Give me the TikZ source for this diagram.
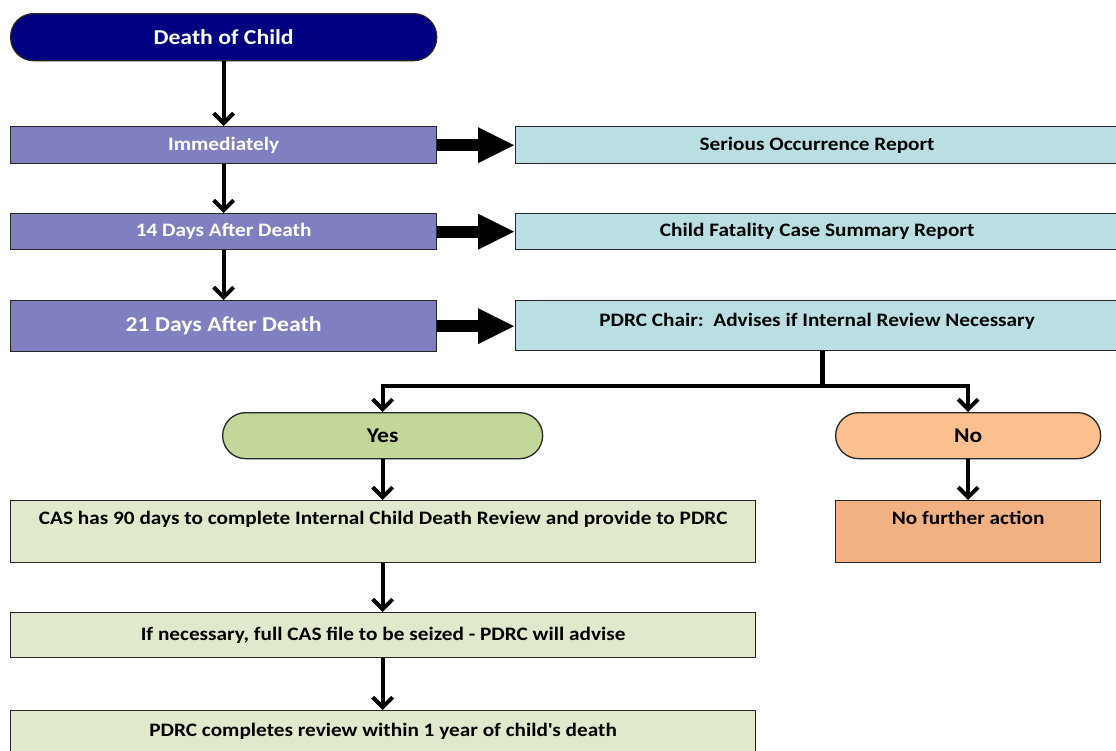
\documentclass[tikz,border=0pt]{standalone}
\usepackage{fontspec}
\setmainfont{Carlito}[FakeStretch=1.12]
\usetikzlibrary{arrows.meta,calc}
\definecolor{navyc}{HTML}{000080}
\definecolor{purplec}{HTML}{8080C0}
\definecolor{tealc}{HTML}{B9DFE2}
\definecolor{greenpill}{HTML}{C4D79B}
\definecolor{peachpill}{HTML}{FAC090}
\definecolor{orangebox}{HTML}{F2B183}
\definecolor{greenbox}{HTML}{E0E9CC}
\newcommand\fsz[1]{\fontsize{#1}{#1}\selectfont}
\tikzset{
  box/.style={draw=black!85, line width=1.3pt, inner sep=0pt, anchor=north west, font=\bfseries\fsz{19}},
  leftbox/.style={box, fill=purplec, text=white, minimum width=426pt},
  rightbox/.style={box, fill=tealc, minimum width=603pt},
  greenwide/.style={box, fill=greenbox, minimum width=745pt},
  pill/.style={box, rounded corners=23pt, minimum height=46pt, font=\bfseries\fsz{21}},
  conn/.style={line width=4pt, -{Straight Barb[length=10pt,width=20pt]}},
  bigarrow/.style={line width=12pt, -{Triangle[length=37pt,width=33pt]}},
}
\begin{document}
\begin{tikzpicture}[x=1pt,y=-1pt]
\useasboundingbox (0,0) rectangle (1116,750);
\clip (0,0) rectangle (1116,750);
% left column
\node[box, fill=navyc, text=white, rounded corners=23pt, minimum width=426pt, minimum height=47pt, font=\bfseries\fsz{21.2}] (death) at (10,13) {Death of Child};
\node[leftbox, minimum height=37pt] (imm) at (10,126) {Immediately};
\node[leftbox, minimum height=36pt] (d14) at (10,213) {14 Days After Death};
\node[leftbox, minimum height=51pt, font=\bfseries\fsz{21.2}] (d21) at (10,300) {21 Days After Death};
% right column
\node[rightbox, minimum height=37pt] (sor) at (515,126) {Serious Occurrence Report};
\node[rightbox, minimum height=36pt] (cfr) at (515,213) {Child Fatality Case Summary Report};
\node[rightbox, text height=26pt, text depth=24pt] (pdrc) at (515,300) {PDRC Chair:\ \ Advises if Internal Review Necessary};
% decision
\node[pill, fill=greenpill, minimum width=320pt] (yes) at (222,412) {Yes};
\node[pill, fill=peachpill, minimum width=265pt] (no) at (835,412) {No};
% lower boxes
\node[greenwide, text height=24pt, text depth=38pt] (cas) at (10,500) {CAS has 90 days to complete Internal Child Death Review and provide to PDRC};
\node[box, fill=orangebox, minimum width=265pt, text height=24pt, text depth=38pt] (nfa) at (835,500) {No further action};
\node[greenwide, minimum height=45pt] (ifn) at (10,612) {If necessary, full CAS file to be seized - PDRC will advise};
\node[greenwide, text height=26pt, text depth=19pt] (done) at (10,710) {PDRC completes review within 1 year of child\textquotesingle s death};
% connectors
\draw[conn] (death.south) -- (imm.north);
\draw[conn] (imm.south) -- (d14.north);
\draw[conn] (d14.south) -- (d21.north);
\draw[bigarrow] (imm.east) -- (sor.west);
\draw[bigarrow] (d14.east) -- (cfr.west);
\draw[bigarrow] (d21.east) -- (d21.east -| pdrc.west);
\coordinate (split) at (822,386);
\draw[line width=5pt] (pdrc.south -| split) -- (split);
\draw[conn] (split) -| (yes.north);
\draw[conn] (split) -| (no.north);
\draw[conn] (yes.south) -- (yes.south |- cas.north);
\draw[conn] (no.south) -- (nfa.north);
\draw[conn] (cas.south -| yes.south) -- (ifn.north -| yes.south);
\draw[conn] (ifn.south -| yes.south) -- (done.north -| yes.south);
\end{tikzpicture}
\end{document}
